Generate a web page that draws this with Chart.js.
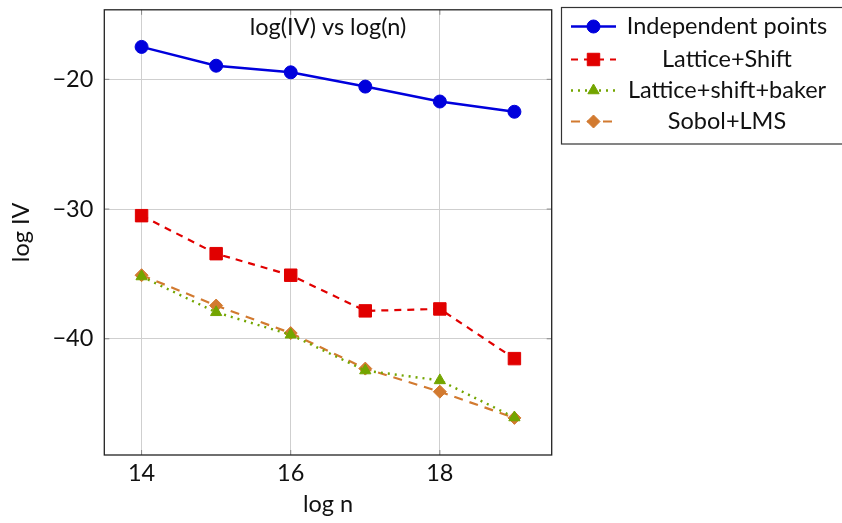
<!DOCTYPE html>
<html>
<head>
<meta charset="utf-8">
<script src="https://cdn.jsdelivr.net/npm/chart.js@4"></script>
<style>
html,body{margin:0;padding:0;background:#fff;}
#wrap{width:842px;height:523px;position:relative;}
</style>
</head>
<body>
<div id="wrap"><canvas id="c" width="842" height="523"></canvas></div>
<script>
const logN = [14, 15, 16, 17, 18, 19];
const independentPoints = [-17.5, -18.95, -19.46, -20.56, -21.71, -22.5];
const latticeShift = [-30.51, -33.44, -35.1, -37.85, -37.7, -41.53];
const latticeShiftBaker = [-35.2, -37.96, -39.69, -42.45, -43.21, -46.07];
const sobolLMS = [-35.1, -37.44, -39.56, -42.3, -44.08, -46.1];
const xTicks = [14, 16, 18];
const yTicks = [-20, -30, -40];
const seriesLabels = ['Independent points', 'Lattice+Shift', 'Lattice+shift+baker', 'Sobol+LMS'];
const chartTitle = 'log(IV) vs log(n)';

const FONT = 'Lato, "Open Sans", sans-serif';
const FS = 23.5;
const toXY = (ys) => logN.map((x, i) => ({x: x, y: ys[i]}));

const styles = [
  {color: 'rgb(0,0,220)', dash: [], width: 2.5, pointStyle: 'circle', radius: 6.5},
  {color: 'rgb(225,0,0)', dash: [7, 6], width: 2.2, pointStyle: 'rect', radius: 8.8},
  {color: 'rgb(115,165,0)', dash: [2, 5], width: 2.4, pointStyle: 'triangle', radius: 6.5},
  {color: 'rgb(210,122,48)', dash: [9, 7], width: 2.2, pointStyle: 'rectRot', radius: 6.5}
];
const seriesData = [independentPoints, latticeShift, latticeShiftBaker, sobolLMS];

const datasets = seriesData.map((d, i) => ({
  label: seriesLabels[i],
  data: toXY(d),
  borderColor: styles[i].color,
  backgroundColor: styles[i].color,
  borderWidth: styles[i].width,
  borderDash: styles[i].dash,
  pointStyle: styles[i].pointStyle,
  pointRadius: styles[i].radius,
  pointBorderWidth: 1,
  pointBorderColor: styles[i].color,
  pointBackgroundColor: styles[i].color,
  tension: 0,
  fill: false
}));

const innerTitle = {
  id: 'innerTitle',
  afterDraw(chart) {
    const ctx = chart.ctx, a = chart.chartArea;
    ctx.save();
    ctx.font = FS + 'px ' + FONT;
    ctx.fillStyle = '#111';
    ctx.textAlign = 'center';
    ctx.textBaseline = 'middle';
    ctx.fillText(chartTitle, (a.left + a.right) / 2, 27);
    ctx.restore();
  }
};

const boxBorder = {
  id: 'boxBorder',
  afterDatasetsDraw(chart) {
    const ctx = chart.ctx, a = chart.chartArea;
    ctx.save();
    ctx.strokeStyle = '#888';
    ctx.lineWidth = 1;
    const xs = chart.scales.x, ys = chart.scales.y;
    xTicks.forEach(t => {
      const px = xs.getPixelForValue(t);
      ctx.beginPath(); ctx.moveTo(px, a.bottom); ctx.lineTo(px, a.bottom - 5); ctx.stroke();
      ctx.beginPath(); ctx.moveTo(px, a.top); ctx.lineTo(px, a.top + 5); ctx.stroke();
    });
    yTicks.forEach(t => {
      const py = ys.getPixelForValue(t);
      ctx.beginPath(); ctx.moveTo(a.left, py); ctx.lineTo(a.left + 5, py); ctx.stroke();
      ctx.beginPath(); ctx.moveTo(a.right, py); ctx.lineTo(a.right - 5, py); ctx.stroke();
    });
    ctx.strokeStyle = '#222';
    ctx.lineWidth = 1.3;
    ctx.strokeRect(a.left, a.top, a.right - a.left, a.bottom - a.top);
    ctx.restore();
  }
};

const customLegend = {
  id: 'customLegend',
  afterDraw(chart) {
    const ctx = chart.ctx;
    const bx = 561.5, by = 7.5, bw = 290, bh = 136.5;
    ctx.save();
    ctx.fillStyle = '#fff';
    ctx.fillRect(bx, by, bw, bh);
    ctx.strokeStyle = '#333';
    ctx.lineWidth = 1.2;
    ctx.strokeRect(bx, by, bw, bh);
    const rows = [26.5, 59.5, 90.5, 121.5];
    chart.data.datasets.forEach((ds, i) => {
      const y = rows[i];
      ctx.save();
      ctx.strokeStyle = ds.borderColor;
      ctx.lineWidth = ds.borderWidth;
      ctx.setLineDash(ds.borderDash);
      ctx.beginPath(); ctx.moveTo(571, y); ctx.lineTo(616, y); ctx.stroke();
      ctx.restore();
      ctx.save();
      ctx.fillStyle = ds.pointBackgroundColor;
      ctx.strokeStyle = ds.pointBorderColor;
      ctx.lineWidth = 1;
      Chart.helpers.drawPoint(ctx, {pointStyle: ds.pointStyle, rotation: 0, radius: ds.pointRadius, borderWidth: 1}, 593.5, y);
      ctx.restore();
      ctx.fillStyle = '#111';
      ctx.font = FS + 'px ' + FONT;
      ctx.textAlign = 'center';
      ctx.textBaseline = 'middle';
      ctx.fillText(ds.label, 727, y);
    });
    ctx.restore();
  }
};

new Chart(document.getElementById('c'), {
  type: 'line',
  data: {datasets: datasets},
  plugins: [innerTitle, boxBorder, customLegend],
  options: {
    responsive: false,
    animation: false,
    devicePixelRatio: 1,
    layout: {padding: {top: 6, right: 290.3, left: 0, bottom: 0}},
    plugins: {legend: {display: false}, title: {display: false}, tooltip: {enabled: false}},
    scales: {
      x: {
        type: 'linear',
        min: 13.5, max: 19.5,
        afterBuildTicks: (s) => { s.ticks = xTicks.map(v => ({value: v})); },
        afterFit: (s) => { s.height = 68; s.paddingLeft = 0; s.paddingRight = 0; },
        grid: {color: '#cfcfcf', lineWidth: 1, drawTicks: false},
        border: {display: false},
        ticks: {color: '#111', font: {family: FONT, size: FS}, padding: 4,
                callback: (v) => String(v)},
        title: {display: true, text: 'log n', color: '#111', font: {family: FONT, size: FS}, padding: {top: 14}}
      },
      y: {
        type: 'linear',
        min: -48.96, max: -14.64,
        afterBuildTicks: (s) => { s.ticks = yTicks.map(v => ({value: v})); },
        afterFit: (s) => { s.width = 104.3; s.paddingTop = 0; s.paddingBottom = 0; },
        grid: {color: '#cfcfcf', lineWidth: 1, drawTicks: false},
        border: {display: false},
        ticks: {color: '#111', font: {family: FONT, size: FS}, padding: 11,
                callback: (v) => '\u2212' + Math.abs(v)},
        title: {display: true, text: 'log IV', color: '#111', font: {family: FONT, size: FS}, padding: {top: 7, bottom: 0}}
      }
    }
  }
});
</script>
</body>
</html>
